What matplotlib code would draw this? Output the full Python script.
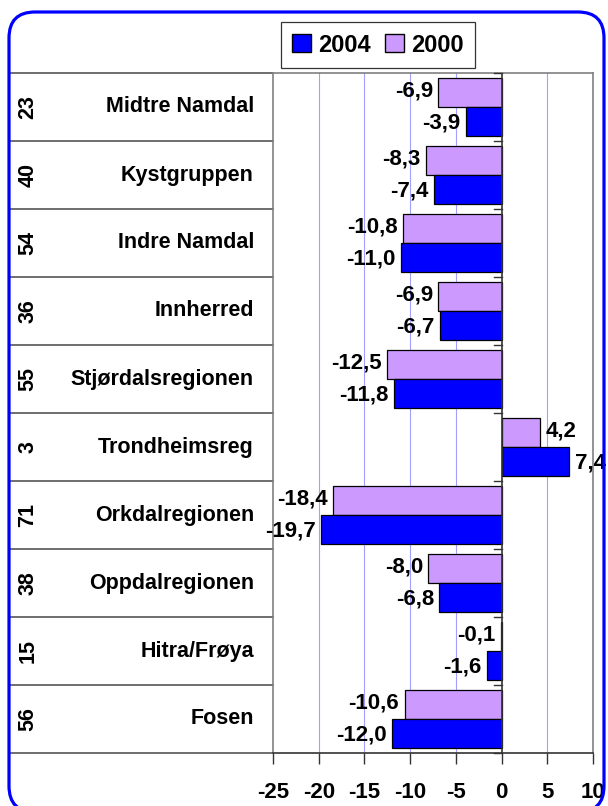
import numpy as np
import matplotlib.pyplot as plt
from matplotlib.patches import FancyBboxPatch, Patch

plt.rcParams['font.family'] = ['Liberation Sans', 'DejaVu Sans']
plt.rcParams['font.weight'] = 'bold'

# Data (top to bottom)
regions = ['Midtre Namdal', 'Kystgruppen', 'Indre Namdal', 'Innherred',
           'Stjørdalsregionen', 'Trondheimsreg', 'Orkdalregionen',
           'Oppdalregionen', 'Hitra/Frøya', 'Fosen']
codes = ['23', '40', '54', '36', '55', '3', '71', '38', '15', '56']
val_2000 = [-6.9, -8.3, -10.8, -6.9, -12.5, 4.2, -18.4, -8.0, -0.1, -10.6]
val_2004 = [-3.9, -7.4, -11.0, -6.7, -11.8, 7.4, -19.7, -6.8, -1.6, -12.0]

c2004 = '#0000FF'
c2000 = '#CC99FF'

fig = plt.figure(figsize=(6.08, 8.06), dpi=100)
W, H = 608, 806
ax = fig.add_axes([273 / W, (H - 753) / H, 320 / W, 680 / H])

# rounded blue frame (inches)
frame = FancyBboxPatch((0.09, -0.06), 5.95, 8.06 - 0.12 + 0.06,
                       boxstyle='round,pad=0,rounding_size=0.26',
                       transform=fig.dpi_scale_trans, fill=False,
                       edgecolor='#0000FF', linewidth=2.3, zorder=0)
fig.patches.append(frame)

n = len(regions)
y = np.arange(n)
h = 0.425
ax.barh(y - h / 2, val_2000, height=h, color=c2000, edgecolor='black', linewidth=0.9, zorder=3)
ax.barh(y + h / 2, val_2004, height=h, color=c2004, edgecolor='black', linewidth=0.9, zorder=3)

fs = 16
for vals, ys, dy in ((val_2000, y - h / 2, -0.03), (val_2004, y + h / 2, 0.03)):
    for yy, v in zip(ys, vals):
        lab = f'{v:.1f}'.replace('.', ',')
        if v < 0:
            ax.text(v - 0.6, yy + dy, lab, ha='right', va='center', fontsize=fs, fontweight='bold')
        else:
            ax.text(v + 0.6, yy + dy, lab, ha='left', va='center', fontsize=fs, fontweight='bold')

ax.set_xlim(-25, 10)
ax.set_ylim(n - 0.5, -0.5)
ax.set_xticks(np.arange(-25, 11, 5))
ax.set_xticklabels([str(t) for t in range(-25, 11, 5)], fontsize=fs, fontweight='bold')
ax.tick_params(axis='x', length=8, width=1, color='#333333', pad=13)
ax.set_yticks([])
for xv in range(-20, 10, 5):
    if xv != 0:
        ax.axvline(xv, color='#A0A0FF', linewidth=0.8, zorder=1)
ax.axvline(0, color='#333333', linewidth=1.2, zorder=4)
for b in np.arange(-0.5, n, 1.0):
    ax.plot([-0.8, 0], [b, b], color='#333333', linewidth=1, zorder=4, clip_on=False)
for s in ax.spines.values():
    s.set_color('#808080')
    s.set_linewidth(1.2)
ax.spines['bottom'].set_color('#333333')

# category table on the left
tr = ax.get_yaxis_transform()
x0 = -263 / 320
for b in np.arange(-0.5, n, 1.0):
    ax.plot([x0, 0], [b, b], color='#555555', linewidth=1.2, transform=tr, clip_on=False)
for yy, name, code in zip(y, regions, codes):
    ax.text(-19 / 320, yy, name, ha='right', va='center', fontsize=15.5,
            fontweight='bold', transform=tr)
    ax.text(-245 / 320, yy, code, ha='center', va='center', fontsize=15.5,
            fontweight='bold', rotation=90, transform=tr)

handles = [Patch(facecolor=c2004, edgecolor='black', label='2004'),
           Patch(facecolor=c2000, edgecolor='black', label='2000')]
leg = fig.legend(handles=handles, loc='center', bbox_to_anchor=(378 / W, 1 - 45 / H),
                 ncol=2, frameon=True, fancybox=False, edgecolor='black',
                 prop={'size': 17, 'weight': 'bold'}, handlelength=0.8, handleheight=0.8,
                 handletextpad=0.3, columnspacing=0.6, borderpad=0.5)
leg.get_frame().set_linewidth(0.9)

fig.savefig('out.png', dpi=100)
